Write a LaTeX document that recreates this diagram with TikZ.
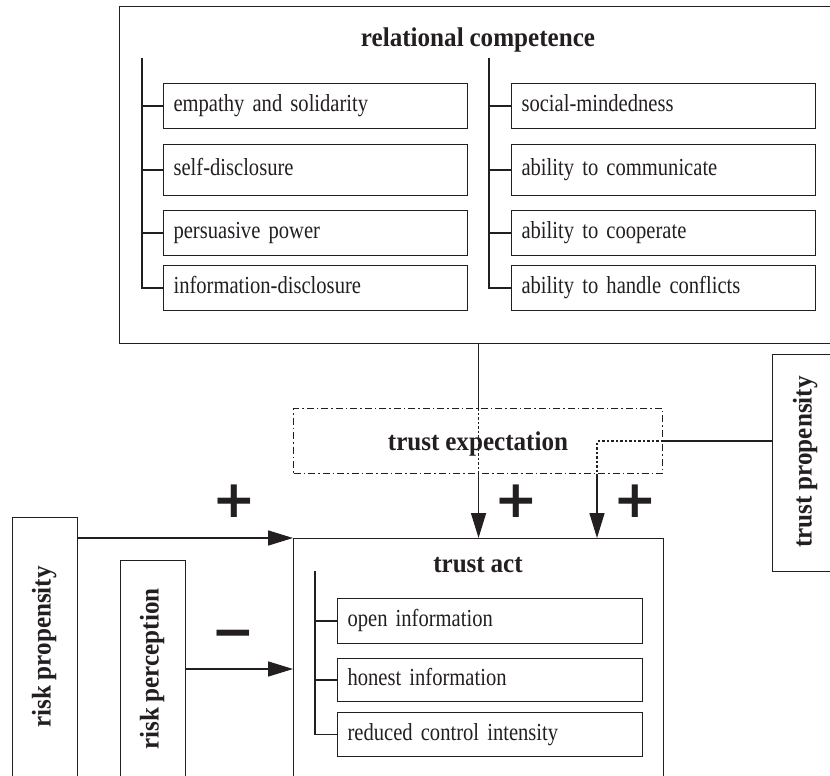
\documentclass[tikz,border=0pt]{standalone}
\usepackage{fontspec}
\setmainfont{Liberation Serif}
\newfontfamily\regfont[FakeStretch=0.84,WordSpace=0.84]{Liberation Serif}
\newfontfamily\headfont[FakeStretch=0.93,WordSpace=0.93]{Liberation Serif}
\newfontfamily\symfont{DejaVu Sans}
\usetikzlibrary{arrows.meta}
\definecolor{ink}{RGB}{35,31,32}
\tikzset{
  frame/.style={draw=ink, line width=1.1pt, inner sep=0pt, anchor=north west},
  item/.style={draw=ink, line width=1.1pt, anchor=north west, inner xsep=10pt, inner ysep=0pt,
    text width=284pt, align=left, minimum height=45pt, text height=17pt, text depth=6pt,
    font=\regfont\fontsize{24.5}{28}\selectfont, text=ink},
  titem/.style={item, inner xsep=10pt, text width=285pt},
  head/.style={font=\headfont\bfseries\fontsize{27}{30}\selectfont, text=ink, inner sep=0pt},
  vhead/.style={head, rotate=90, text height=19pt, text depth=6pt},
  conn/.style={draw=ink, line width=1.6pt},
  brk/.style={draw=ink, line width=1.6pt},
  arr/.style={conn, -{Triangle[length=25pt,width=15pt]}},
  dots/.style={draw=ink, line width=1.6pt, dash pattern=on 2.5pt off 2pt},
  dashdot/.style={draw=ink, line width=1pt, dash pattern=on 7pt off 3pt on 1.5pt off 3pt},
  sym/.style={font=\symfont\bfseries\fontsize{52}{56}\selectfont, text=ink, inner sep=0pt},
}
\begin{document}
\begin{tikzpicture}[x=1pt,y=-1pt]
\useasboundingbox (0,0) rectangle (830,776);
\clip (0,0) rectangle (830,776);
\fill[white] (0,0) rectangle (830,776);

% relational competence
\node[frame, minimum width=740pt, minimum height=337pt] (rc) at (119,6) {};
\node[head, anchor=base] (rct) at (478,47) {relational competence};

\node[item] (l1) at (163,83) {empathy and solidarity};
\node[item, minimum height=51pt] (l2) at (163,144) {self-disclosure};
\node[item] (l3) at (163,210) {persuasive power};
\node[item] (l4) at (163,265) {information-disclosure};
\node[item] (r1) at (511,83) {social-mindedness};
\node[item, minimum height=51pt] (r2) at (511,144) {ability to communicate};
\node[item] (r3) at (511,210) {ability to cooperate};
\node[item] (r4) at (511,265) {ability to handle conflicts};

\coordinate (lb) at (142,58);
\coordinate (rb) at (489,58);
\draw[brk] (lb) |- (l4.west);
\foreach \n in {l1,l2,l3} \draw[brk] (lb |- \n.west) -- (\n.west);
\draw[brk] (rb) |- (r4.west);
\foreach \n in {r1,r2,r3} \draw[brk] (rb |- \n.west) -- (\n.west);

% trust act
\node[frame, minimum width=370pt, minimum height=260pt] (ta) at (293,538) {};
\node[head, anchor=base] (tat) at (478,572) {trust act};
\node[titem] (a1) at (337,598) {open information};
\node[titem, minimum height=43pt] (a2) at (337,658) {honest information};
\node[titem, minimum height=44pt] (a3) at (337,712) {reduced control intensity};
\coordinate (ab) at (315,571);
\draw[brk] (ab) |- (a3.west);
\foreach \n in {a1,a2} \draw[brk] (ab |- \n.west) -- (\n.west);

% trust expectation
\node[dashdot, anchor=north west, minimum width=369pt, minimum height=65pt, inner sep=0pt,
  head, text height=19pt, text depth=0pt] (te) at (293,408) {trust expectation};

% trust propensity
\node[frame, minimum width=90pt, minimum height=217pt] (tp) at (772,354) {};
\node[vhead] (tpt) at (805,462) {trust propensity};

% risk propensity / perception
\node[frame, minimum width=65pt, minimum height=300pt] (rp) at (12,517) {};
\node[vhead] (rpt) at (44,647) {risk propensity};
\node[frame, minimum width=65pt, minimum height=260pt] (rq) at (120,560) {};
\node[vhead] (rqt) at (152,669) {risk perception};

% connectors
\draw[conn] (ta.north |- rc.south) -- (ta.north |- te.north);
\draw[dots] (ta.north |- te.north) -- (ta.north |- te.south);
\draw[arr] (ta.north |- te.south) -- (ta.north);

\coordinate (tx) at (597,538);
\draw[conn] (tp.west |- te.east) -- (te.east);
\draw[dots] (te.east) -| (tx |- te.south);
\draw[arr] (tx |- te.south) -- (tx);

\draw[arr] (rp.east |- ta.north west) -- (ta.north west);
\coordinate (rqa) at (293,669);
\draw[arr] (rq.east |- rqa) -- (rqa);

% signs
\node[sym] (s1) at (234,501) {+};
\node[sym] (s2) at (516,501) {+};
\node[sym] (s3) at (635,501) {+};
\node[sym] (s4) at (233,640) {−};
\end{tikzpicture}
\end{document}
